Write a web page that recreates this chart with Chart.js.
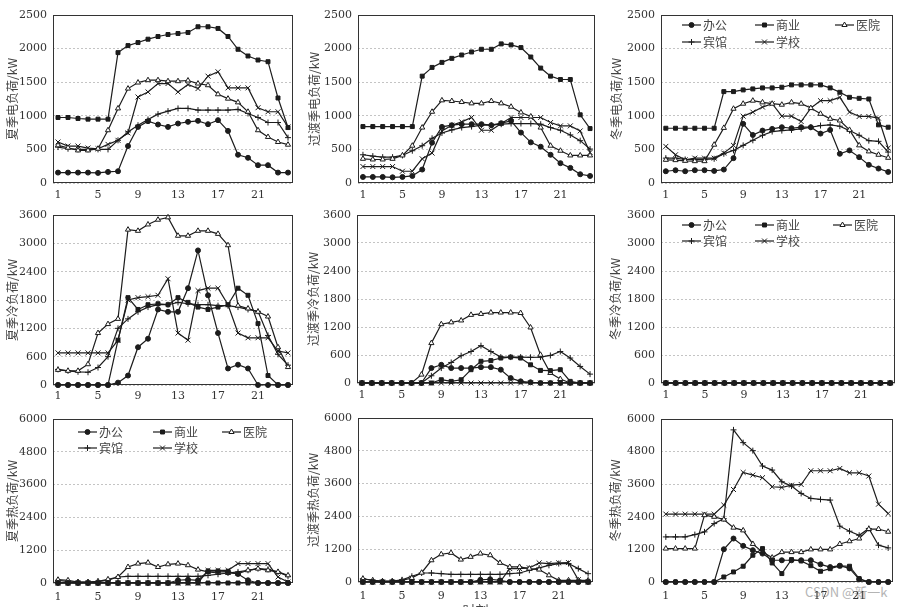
<!DOCTYPE html>
<html>
<head>
<meta charset="utf-8">
<script src="https://cdn.jsdelivr.net/npm/chart.js@4.4.0/dist/chart.umd.min.js"></script>
<style>
html, body { margin: 0; padding: 0; background: #fff; overflow: hidden; width: 901px; height: 607px; }
canvas { position: absolute; }
#mark { position: absolute; left: 805px; top: 582px; font: 13px "Noto Sans CJK SC", sans-serif; color: #b4b4b4; white-space: nowrap; }
</style>
</head>
<body>
<div id="mark">CSDN @新一k</div>
<script>
// series order: 办公, 商业, 医院, 宾馆, 学校
const SERIES = ["办公", "商业", "医院", "宾馆", "学校"];
const HOURS = ["1","2","3","4","5","6","7","8","9","10","11","12","13","14","15","16","17","18","19","20","21","22","23","24"];
const X_TICKS = ["1", "5", "9", "13", "17", "21"];

const TICKS_ELEC = [0, 500, 1000, 1500, 2000, 2500];
const TICKS_COLD = [0, 600, 1200, 1800, 2400, 3000, 3600];
const TICKS_HEAT = [0, 1200, 2400, 3600, 4800, 6000];

const ELEC_SUMMER = [
    [155,155,155,155,150,165,175,550,835,920,870,835,885,910,925,875,935,775,420,375,265,265,155,155],
    [975,975,960,950,950,950,1940,2045,2090,2140,2180,2210,2225,2240,2325,2325,2300,2180,1990,1890,1830,1805,1265,825],
    [560,525,485,485,510,785,1110,1405,1495,1530,1530,1515,1515,1525,1480,1455,1320,1255,1200,1060,785,685,610,570],
    [535,510,500,500,500,500,635,760,860,945,1025,1070,1110,1110,1085,1085,1085,1085,1095,1035,975,900,900,675],
    [610,550,550,520,510,575,635,745,1280,1355,1480,1480,1355,1465,1405,1590,1655,1415,1415,1415,1120,1060,1060,835]
];
const ELEC_TRANS = [
    [90,90,90,85,90,105,200,600,835,860,875,875,875,860,890,925,750,605,540,420,295,225,130,105],
    [840,840,840,840,840,840,1590,1720,1795,1855,1905,1950,1990,1990,2070,2055,2015,1875,1710,1590,1540,1540,1015,810],
    [360,350,350,360,410,555,825,1060,1230,1220,1205,1185,1185,1220,1185,1135,1050,990,825,555,480,410,410,410],
    [420,400,385,385,410,480,555,665,745,790,825,840,860,860,875,885,885,885,875,825,785,715,630,505],
    [245,245,245,245,175,175,360,445,775,860,910,975,785,785,885,975,975,975,975,900,850,850,775,455]
];
const ELEC_WINTER = [
    [175,190,175,190,190,180,200,370,880,715,780,805,830,815,830,830,735,790,435,485,385,270,215,165],
    [815,815,815,815,815,815,1360,1360,1385,1400,1415,1415,1425,1460,1460,1460,1460,1415,1350,1275,1260,1250,865,830],
    [345,340,330,325,325,570,820,1105,1180,1225,1200,1180,1165,1200,1180,1115,1030,955,930,790,560,470,420,375],
    [370,370,350,350,350,360,435,485,560,635,710,765,780,790,805,830,855,865,845,780,710,630,620,460],
    [545,420,345,370,370,370,445,560,995,1055,1130,1180,995,995,915,1115,1225,1225,1275,1055,990,990,965,520]
];
const COLD_SUMMER = [
    [0,0,0,0,0,0,50,200,800,980,1600,1550,1550,2050,2850,1900,1100,350,430,350,0,0,0,0],
    [0,0,0,0,0,0,950,1850,1600,1700,1720,1700,1850,1750,1650,1600,1650,1700,2050,1900,1300,200,0,0],
    [320,300,300,440,1100,1290,1400,3290,3265,3400,3500,3550,3160,3160,3265,3265,3200,2960,1680,1620,1550,1450,800,380],
    [330,300,280,270,370,600,1200,1400,1550,1650,1700,1700,1750,1720,1700,1700,1680,1680,1650,1600,1560,1050,650,420],
    [680,680,680,680,680,680,950,1800,1850,1870,1900,2250,1100,950,2000,2050,2050,1700,1100,1000,1000,1000,720,680]
];
const COLD_TRANS = [
    [0,0,0,0,0,0,0,320,390,320,320,320,340,340,285,105,35,15,0,0,0,0,0,0],
    [0,0,0,0,0,0,0,0,70,35,70,285,465,480,535,555,535,390,270,265,285,35,0,0],
    [0,0,0,0,0,0,180,855,1260,1300,1340,1460,1480,1510,1510,1510,1500,1190,605,215,85,0,0,0],
    [0,0,0,0,0,0,0,155,320,440,585,675,800,675,555,555,555,550,555,590,675,535,355,190],
    [0,0,0,0,0,0,0,0,0,0,0,0,0,0,0,0,0,0,0,0,0,0,0,0]
];
const COLD_WINTER = [
    [0,0,0,0,0,0,0,0,0,0,0,0,0,0,0,0,0,0,0,0,0,0,0,0],
    [0,0,0,0,0,0,0,0,0,0,0,0,0,0,0,0,0,0,0,0,0,0,0,0],
    [0,0,0,0,0,0,0,0,0,0,0,0,0,0,0,0,0,0,0,0,0,0,0,0],
    [0,0,0,0,0,0,0,0,0,0,0,0,0,0,0,0,0,0,0,0,0,0,0,0],
    [0,0,0,0,0,0,0,0,0,0,0,0,0,0,0,0,0,0,0,0,0,0,0,0]
];
const HEAT_SUMMER = [
    [0,0,0,0,0,0,0,0,0,0,0,0,100,120,100,430,430,420,330,100,0,0,0,0],
    [0,0,0,0,0,0,0,0,0,0,0,0,0,0,0,0,0,0,0,0,0,0,0,0],
    [120,100,35,35,60,135,220,585,710,745,585,685,710,650,490,405,365,365,340,465,525,465,405,280],
    [100,50,30,30,50,100,220,245,245,245,245,245,245,245,245,280,320,365,405,465,525,500,405,245],
    [0,0,0,0,0,0,0,0,0,0,0,0,0,0,0,465,465,465,710,710,710,710,220,35]
];
const HEAT_TRANS = [
    [0,0,0,0,0,0,0,0,0,0,0,0,80,100,60,0,0,0,0,0,0,0,0,0],
    [0,0,0,0,0,0,0,0,0,0,0,0,0,0,0,0,0,0,0,0,0,0,0,0],
    [120,60,25,25,60,145,340,795,1015,1065,820,920,1040,980,700,550,550,490,455,245,60,60,60,60],
    [120,60,30,30,80,210,330,330,305,280,280,280,280,280,280,305,330,430,515,610,675,675,490,305],
    [0,0,0,0,0,0,0,0,0,0,0,0,0,0,0,490,490,515,700,675,700,710,85,0]
];
const HEAT_WINTER = [
    [0,0,0,0,0,0,1205,1600,1330,1170,1045,800,800,800,800,800,650,550,600,500,100,0,0,0],
    [0,0,0,0,0,0,185,370,580,985,1230,700,310,825,775,600,395,490,590,580,125,0,0,0],
    [1230,1230,1230,1230,2460,2400,2300,2000,1900,1400,1100,900,1100,1100,1100,1200,1200,1200,1400,1500,1600,1950,1950,1850],
    [1660,1660,1660,1745,1845,2150,2330,5600,5130,4835,4270,4120,3690,3530,3260,3075,3040,3015,2055,1870,1720,1970,1355,1255],
    [2500,2500,2500,2500,2500,2500,2830,3405,4035,3935,3840,3505,3480,3565,3590,4095,4095,4095,4180,4020,4020,3900,2865,2520]
];

const LINE_COLOR = "#1c1c1c";
const MARKERS = {
    "办公": { shape: "circle", r: 2.5, fill: LINE_COLOR },
    "商业": { shape: "rect", r: 2.8, fill: LINE_COLOR },
    "医院": { shape: "triangle", r: 3, fill: "#fff" },
    "宾馆": { shape: "cross", r: 3, fill: LINE_COLOR },
    "学校": { shape: "crossRot", r: 3.5, fill: LINE_COLOR }
};

// panel layout: canvas box + plot area inside the canvas
const GEO = [
    { left: 0,   top: 0,   w: 300, h: 200, pl: 53, pr: 293, pt: 15, pb: 183, tx: 12, xpad: 6 },
    { left: 300, top: 0,   w: 300, h: 200, pl: 58, pr: 295, pt: 15, pb: 183, tx: 14, xpad: 6 },
    { left: 600, top: 0,   w: 301, h: 200, pl: 61, pr: 293, pt: 15, pb: 183, tx: 16, xpad: 6 },
    { left: 0,   top: 200, w: 300, h: 200, pl: 53, pr: 293, pt: 15, pb: 185, tx: 12, xpad: 5 },
    { left: 300, top: 200, w: 300, h: 200, pl: 57, pr: 295, pt: 15, pb: 183, tx: 13, xpad: 6 },
    { left: 600, top: 200, w: 301, h: 200, pl: 61, pr: 295, pt: 15, pb: 183, tx: 15, xpad: 6 },
    { left: 0,   top: 400, w: 300, h: 218, pl: 53, pr: 293, pt: 19, pb: 183, tx: 12, xpad: 8 },
    { left: 300, top: 400, w: 300, h: 218, pl: 58, pr: 293, pt: 18, pb: 182, tx: 13, xpad: 8 },
    { left: 600, top: 400, w: 301, h: 218, pl: 61, pr: 293, pt: 19, pb: 182, tx: 15, xpad: 8 }
];

const PANELS = [
    { title: "夏季电负荷/kW", data: ELEC_SUMMER, ticks: TICKS_ELEC },
    { title: "过渡季电负荷/kW", data: ELEC_TRANS, ticks: TICKS_ELEC },
    { title: "冬季电负荷/kW", data: ELEC_WINTER, ticks: TICKS_ELEC, legend: { show: true, cols: [21, 94, 174], rows: [10, 27] } },
    { title: "夏季冷负荷/kW", data: COLD_SUMMER, ticks: TICKS_COLD },
    { title: "过渡季冷负荷/kW", data: COLD_TRANS, ticks: TICKS_COLD },
    { title: "冬季冷负荷/kW", data: COLD_WINTER, ticks: TICKS_COLD, legend: { show: true, cols: [21, 94, 172], rows: [10, 26] } },
    { title: "夏季热负荷/kW", data: HEAT_SUMMER, ticks: TICKS_HEAT, legend: { show: true, cols: [25, 100, 169], rows: [13, 29] } },
    { title: "过渡季热负荷/kW", data: HEAT_TRANS, ticks: TICKS_HEAT, xTitle: "时刻" },
    { title: "冬季热负荷/kW", data: HEAT_WINTER, ticks: TICKS_HEAT }
];

// frame around the plot area
const boxPlugin = {
    id: "box",
    beforeDatasetsDraw(chart) {
        const a = chart.chartArea, ctx = chart.ctx;
        ctx.save();
        ctx.strokeStyle = "#333";
        ctx.lineWidth = 1;
        ctx.strokeRect(Math.round(a.left) + 0.5, Math.round(a.top) + 0.5, Math.round(a.right - a.left) - 1, Math.round(a.bottom - a.top) - 1);
        ctx.restore();
    }
};

// legend in 3 columns inside the plot
const legendPlugin = {
    id: "gridLegend",
    afterDatasetsDraw(chart, args, opts) {
        if (!opts || !opts.show) return;
        const a = chart.chartArea, ctx = chart.ctx;
        chart.data.datasets.forEach(function (ds, i) {
            var x = a.left + opts.cols[i % 3];
            var y = a.top + opts.rows[Math.floor(i / 3)];
            ctx.save();
            ctx.strokeStyle = LINE_COLOR;
            ctx.lineWidth = 1.2;
            ctx.beginPath();
            ctx.moveTo(x, y);
            ctx.lineTo(x + 19, y);
            ctx.stroke();
            ctx.fillStyle = ds.pointBackgroundColor;
            ctx.lineWidth = 1;
            Chart.helpers.drawPoint(ctx, { pointStyle: ds.pointStyle, radius: ds.pointRadius, borderWidth: 1, rotation: 0 }, x + 9.5, y);
            ctx.fillStyle = "#444";
            ctx.font = '12px "Noto Sans CJK SC"';
            ctx.textBaseline = "middle";
            ctx.fillText(ds.label, x + 21, y);
            ctx.restore();
        });
    }
};

PANELS.forEach(function (p, k) {
    var g = GEO[k];
    var cv = document.createElement("canvas");
    cv.width = g.w;
    cv.height = g.h;
    cv.style.left = g.left + "px";
    cv.style.top = g.top + "px";
    document.body.appendChild(cv);

    var datasets = SERIES.map(function (name, i) {
        var m = MARKERS[name];
        return {
            label: name,
            data: p.data[i],
            borderColor: LINE_COLOR,
            borderWidth: 1.2,
            pointStyle: m.shape,
            pointRadius: m.r,
            pointBackgroundColor: m.fill,
            pointBorderColor: LINE_COLOR,
            pointBorderWidth: 1,
            tension: 0,
            clip: false
        };
    });

    new Chart(cv, {
        type: "line",
        data: { labels: HOURS, datasets: datasets },
        options: {
            responsive: false,
            animation: false,
            layout: { padding: { left: 0, top: g.pt, right: g.w - g.pr, bottom: 0 } },
            plugins: {
                legend: { display: false },
                tooltip: { enabled: false },
                gridLegend: p.legend || { show: false }
            },
            scales: {
                x: {
                    type: "category",
                    offset: true,
                    grid: { display: false, drawTicks: false },
                    border: { display: false },
                    ticks: {
                        autoSkip: false,
                        maxRotation: 0,
                        padding: g.xpad,
                        color: "#333",
                        font: { family: "DejaVu Serif", size: 11 },
                        callback: function (v, i) { return X_TICKS.includes(HOURS[i]) ? HOURS[i] : ""; }
                    },
                    title: p.xTitle ? {
                        display: true, text: p.xTitle, color: "#444",
                        font: { family: "Noto Sans CJK SC", size: 13 }, padding: { top: 0, bottom: 0 }
                    } : { display: false },
                    afterFit: function (s) { s.height = g.h - g.pb; }
                },
                y: {
                    min: 0,
                    max: p.ticks[p.ticks.length - 1],
                    afterBuildTicks: function (s) { s.ticks = p.ticks.map(function (v) { return { value: v }; }); },
                    grid: { color: "#c4c4c4", drawTicks: false },
                    border: { display: false, dash: [2, 2] },
                    ticks: {
                        padding: 6, color: "#333", font: { family: "DejaVu Serif", size: 11 },
                        callback: function (v) { return String(v); }
                    },
                    title: {
                        display: true, text: p.title, color: "#444",
                        font: { family: "Noto Sans CJK SC", size: 12 },
                        padding: { top: g.tx - 7.2, bottom: 0 }
                    },
                    afterFit: function (s) { s.width = g.pl; }
                }
            }
        },
        plugins: [boxPlugin, legendPlugin]
    });
});
</script>
</body>
</html>
